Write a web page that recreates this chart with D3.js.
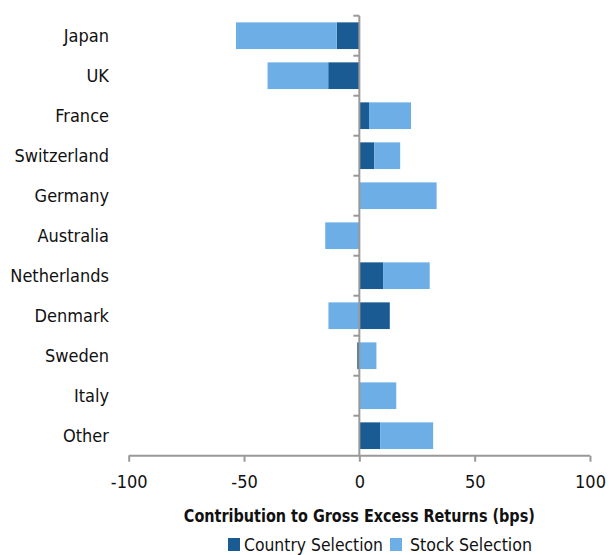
<!DOCTYPE html>
<html>
<head>
<meta charset="utf-8">
<script src="https://cdn.jsdelivr.net/npm/d3@7"></script>
<style>
  body { margin: 0; background: #fff; }
  text { font-family: "Liberation Sans Narrow", "DejaVu Sans Condensed", sans-serif; fill: #111; }
</style>
</head>
<body>
<svg></svg>
<script>
var W = 615, H = 555;

// data
var countries = ["Japan", "UK", "France", "Switzerland", "Germany", "Australia",
                 "Netherlands", "Denmark", "Sweden", "Italy", "Other"];
var countrySel = [-9.8, -13.5, 4.2, 6.5, 0, 0, 10.3, 13.2, -0.9, 0, 9.0];
var stockSel   = [-43.7, -26.3, 18.2, 11.2, 33.5, -14.8, 20.2, -13.4, 7.4, 16.0, 23.0];
var xTicks = [-100, -50, 0, 50, 100];
var seriesNames = ["Country Selection", "Stock Selection"];
var colors = ["#1b5b93", "#6eaee6"];

var rows = countries.map(function(c, i) {
  return {name: c, country: countrySel[i], stock: stockSel[i]};
});

var svg = d3.select("svg").attr("width", W).attr("height", H);

var x = d3.scaleLinear().domain([-100, 100]).range([128.7, 590]);
var y = d3.scaleBand().domain(countries).range([15.7, 455.7]).paddingInner(0.333).paddingOuter(0.1665);

var stack = d3.stack().keys(["country", "stock"]).offset(d3.stackOffsetDiverging);
var layers = stack(rows);

// bars
svg.selectAll("g.layer")
    .data(layers)
    .enter().append("g")
    .attr("class", "layer")
    .attr("fill", function(d, i) { return colors[i]; })
  .selectAll("rect")
    .data(function(d) { return d; })
    .enter().append("rect")
    .attr("x", function(d) { return x(Math.min(d[0], d[1])); })
    .attr("y", function(d) { return y(d.data.name); })
    .attr("width", function(d) { return Math.abs(x(d[1]) - x(d[0])); })
    .attr("height", y.bandwidth());

var axisColor = "#999";

// x axis
var xAxis = svg.append("g")
    .attr("transform", "translate(0," + 455.7 + ")")
    .call(d3.axisBottom(x).tickValues(xTicks).tickSize(6).tickPadding(14).tickFormat(d3.format("d")));
xAxis.selectAll("path, line").attr("stroke", axisColor).attr("stroke-width", 2);
xAxis.select(".domain").attr("d", "M" + x(-100) + ",0H" + x(100));
xAxis.selectAll("text").attr("font-size", 18).attr("fill", "#111")
    .text(function(d) { return d < 0 ? "-" + Math.abs(d) : d; });

// y axis at zero
var bounds = [15.7].concat(countries.map(function(c) { return y(c) - y.step() * y.paddingInner() / 2 + y.step(); }));
svg.append("line")
    .attr("x1", x(0)).attr("x2", x(0))
    .attr("y1", 15.7).attr("y2", 455.7)
    .attr("stroke", axisColor).attr("stroke-width", 2);
svg.selectAll("line.ytick")
    .data(bounds.slice(0, -1))
    .enter().append("line")
    .attr("class", "ytick")
    .attr("x1", x(0) - 6).attr("x2", x(0))
    .attr("y1", function(d) { return d; }).attr("y2", function(d) { return d; })
    .attr("stroke", axisColor).attr("stroke-width", 2);

// category labels
svg.selectAll("text.cat")
    .data(countries)
    .enter().append("text")
    .attr("class", "cat")
    .attr("x", 109)
    .attr("y", function(d) { return y(d) + y.bandwidth() / 2; })
    .attr("dy", "0.35em")
    .attr("text-anchor", "end")
    .attr("font-size", 18)
    .text(function(d) { return d; });

// axis title
svg.append("text")
    .attr("x", x(0))
    .attr("y", 522)
    .attr("text-anchor", "middle")
    .attr("font-size", 18)
    .attr("font-weight", "bold")
    .attr("textLength", 351)
    .attr("lengthAdjust", "spacingAndGlyphs")
    .text("Contribution to Gross Excess Returns (bps)");

// legend
var legend = svg.append("g").attr("transform", "translate(228,545)");
var lx = [0, 162];
seriesNames.forEach(function(s, i) {
  var g = legend.append("g").attr("transform", "translate(" + lx[i] + ",0)");
  g.append("rect").attr("x", 0).attr("y", -7).attr("width", 12).attr("height", 13).attr("fill", colors[i]);
  g.append("text").attr("x", i ? 20 : 16).attr("y", 0).attr("dy", "0.35em").attr("font-size", 18)
      .attr("textLength", i ? 122 : 139).attr("lengthAdjust", "spacingAndGlyphs").text(s);
});
</script>
</body>
</html>
